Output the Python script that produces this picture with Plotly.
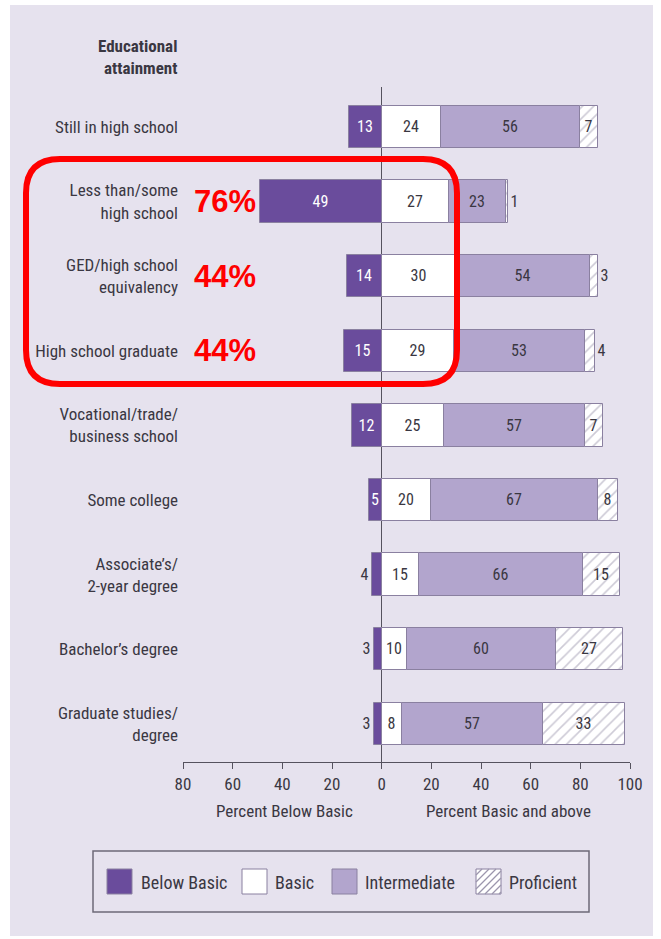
import plotly.graph_objects as go

categories = ["Still in high school", "Less than/some<br>high school", "GED/high school<br>equivalency",
              "High school graduate", "Vocational/trade/<br>business school", "Some college",
              "Associate’s/<br>2-year degree", "Bachelor’s degree", "Graduate studies/<br>degree"]
below_basic = [13, 49, 14, 15, 12, 5, 4, 3, 3]
basic = [24, 27, 30, 29, 25, 20, 15, 10, 8]
intermediate = [56, 23, 54, 53, 57, 67, 66, 60, 57]
proficient = [7, 1, 3, 4, 7, 8, 15, 27, 33]
series_names = ["Below Basic", "Basic", "Intermediate", "Proficient"]
highlight_rows = [1, 2, 3]
highlight_text = ["76%", "44%", "44%"]
tick_vals = [-80, -60, -40, -20, 0, 20, 40, 60, 80, 100]
tick_text = ["80", "60", "40", "20", "0", "20", "40", "60", "80", "100"]

FONT = "Liberation Sans Narrow, Roboto Condensed, Arial Narrow, Roboto, sans-serif"
TXT = "#3a3742"
DARK = "#6a4c9c"
MID = "#b2a5cd"
EDGE = "#8a80a0"
BG = "#e6e2ee"
HATCH = "#9c96ad"

W, H = 661, 939
L, R, T, B = 183, 31, 87, 177
PW, PH = W - L - R, H - T - B


def px(p):
    return (p - L) / PW


def py(p):
    return (H - B - p) / PH


rows = list(range(len(categories)))
bw = 0.57

fig = go.Figure()
fig.add_trace(go.Bar(
    y=rows, x=[-v for v in below_basic], orientation="h", width=bw, name=series_names[0],
    marker=dict(color=DARK, line=dict(color=EDGE, width=1)),
    text=[str(v) for v in below_basic],
    textposition=["inside" if v > 4 else "outside" for v in below_basic],
    insidetextanchor="middle", textangle=0, constraintext="none",
    insidetextfont=dict(color="white", size=16, family=FONT),
    outsidetextfont=dict(color=TXT, size=16, family=FONT),
    cliponaxis=False, hoverinfo="skip"))
fig.add_trace(go.Bar(
    y=rows, x=basic, orientation="h", width=bw, name=series_names[1],
    marker=dict(color="white", line=dict(color=EDGE, width=1)),
    text=[str(v) for v in basic], textposition="inside", insidetextanchor="middle",
    textangle=0, constraintext="none",
    insidetextfont=dict(color=TXT, size=16, family=FONT), hoverinfo="skip"))
fig.add_trace(go.Bar(
    y=rows, x=intermediate, orientation="h", width=bw, name=series_names[2],
    marker=dict(color=MID, line=dict(color=EDGE, width=1)),
    text=[str(v) for v in intermediate], textposition="inside", insidetextanchor="middle",
    textangle=0, constraintext="none",
    insidetextfont=dict(color=TXT, size=16, family=FONT), hoverinfo="skip"))
fig.add_trace(go.Bar(
    y=rows, x=proficient, orientation="h", width=bw, name=series_names[3],
    marker=dict(color="white", line=dict(color=EDGE, width=1),
                pattern=dict(shape="/", fgcolor=HATCH, bgcolor="white", size=8, solidity=0.2)),
    text=[str(v) for v in proficient],
    textposition=["inside" if v > 4 else "outside" for v in proficient],
    insidetextanchor="middle", textangle=0, constraintext="none",
    insidetextfont=dict(color=TXT, size=16, family=FONT),
    outsidetextfont=dict(color=TXT, size=16, family=FONT),
    cliponaxis=False, hoverinfo="skip"))

shapes = []
annotations = []

# panel background
shapes.append(dict(type="rect", xref="paper", yref="paper", x0=px(10), x1=px(653), y0=py(936), y1=py(5),
                   fillcolor=BG, line=dict(width=0), layer="below"))

# header
annotations.append(dict(text="<b>Educational<br>attainment</b>", xref="paper", yref="paper",
                        x=px(179), y=py(57), xanchor="right", yanchor="middle", align="right",
                        showarrow=False, font=dict(family=FONT, size=17, color=TXT)))

# axis titles
annotations.append(dict(text="Percent Below Basic", xref="x", yref="paper", x=-39, y=py(811),
                        yanchor="middle", showarrow=False, font=dict(family=FONT, size=17, color=TXT)))
annotations.append(dict(text="Percent Basic and above", xref="x", yref="paper", x=51, y=py(811),
                        yanchor="middle", showarrow=False, font=dict(family=FONT, size=17, color=TXT)))

# highlight percentages
for r, t in zip(highlight_rows, highlight_text):
    annotations.append(dict(text="<b>" + t + "</b>", xref="x", yref="y", x=-63, y=r,
                            xanchor="center", yanchor="middle",
                            showarrow=False, font=dict(family="Liberation Sans, Arial, sans-serif", size=31,
                                                       color="#ff0000")))

# red rounded rectangle
x0, x1, y0, y1, rad = 26, 457, 159, 384, 34
path = (f"M {px(x0 + rad)} {py(y0)} L {px(x1 - rad)} {py(y0)} Q {px(x1)} {py(y0)} {px(x1)} {py(y0 + rad)} "
        f"L {px(x1)} {py(y1 - rad)} Q {px(x1)} {py(y1)} {px(x1 - rad)} {py(y1)} "
        f"L {px(x0 + rad)} {py(y1)} Q {px(x0)} {py(y1)} {px(x0)} {py(y1 - rad)} "
        f"L {px(x0)} {py(y0 + rad)} Q {px(x0)} {py(y0)} {px(x0 + rad)} {py(y0)} Z")
shapes.append(dict(type="path", xref="paper", yref="paper", path=path,
                   line=dict(color="#ff0000", width=6), layer="above"))

# legend box
shapes.append(dict(type="rect", xref="paper", yref="paper", x0=px(93), x1=px(589), y0=py(912), y1=py(851),
                   line=dict(color="#6d6a78", width=1.5), fillcolor="rgba(0,0,0,0)"))
sw_x = [107, 242, 332, 476]
txt_x = [139, 273, 363, 507]
sw_fill = [DARK, "white", MID, "white"]
sy0, sy1 = 869, 894
for i in range(4):
    shapes.append(dict(type="rect", xref="paper", yref="paper", x0=px(sw_x[i]), x1=px(sw_x[i] + 25),
                       y0=py(sy1), y1=py(sy0), fillcolor=sw_fill[i], line=dict(color=EDGE, width=1)))
    annotations.append(dict(text=series_names[i], xref="paper", yref="paper", x=px(txt_x[i]), y=py(882),
                            xanchor="left", yanchor="middle", showarrow=False,
                            font=dict(family=FONT, size=18, color=TXT)))
# hatch in proficient swatch
s = 25
hx0 = sw_x[3]
for d in range(6, 50, 7):
    ax_, ay_ = hx0 + max(0, d - s), sy0 + min(d, s)
    bx_, by_ = hx0 + min(d, s), sy0 + max(0, d - s)
    shapes.append(dict(type="line", xref="paper", yref="paper", x0=px(ax_), y0=py(ay_), x1=px(bx_), y1=py(by_),
                       line=dict(color=HATCH, width=1.2)))

fig.update_layout(
    width=W, height=H, barmode="relative", bargap=0,
    margin=dict(l=L, r=R, t=T, b=B, pad=0),
    paper_bgcolor="white", plot_bgcolor="rgba(0,0,0,0)",
    showlegend=False, shapes=shapes, annotations=annotations,
    font=dict(family=FONT, color=TXT),
    xaxis=dict(range=[-80, 100], tickvals=tick_vals, ticktext=tick_text, showgrid=False,
               zeroline=True, zerolinecolor="#55525e", zerolinewidth=1.3,
               showline=True, linecolor="#55525e", linewidth=1.3, ticks="outside", ticklen=6,
               tickcolor="#55525e", tickfont=dict(family=FONT, size=17, color=TXT), fixedrange=True),
    yaxis=dict(range=[8.512, -0.536], tickvals=rows, ticktext=categories, showgrid=False, zeroline=False,
               showline=False, ticks="", tickfont=dict(family=FONT, size=17, color=TXT),
               ticklabelstandoff=4, fixedrange=True),
)

fig.write_html("out.html", config={"displayModeBar": False},
               post_script="document.body.style.margin='0px';document.body.style.padding='0px';")
